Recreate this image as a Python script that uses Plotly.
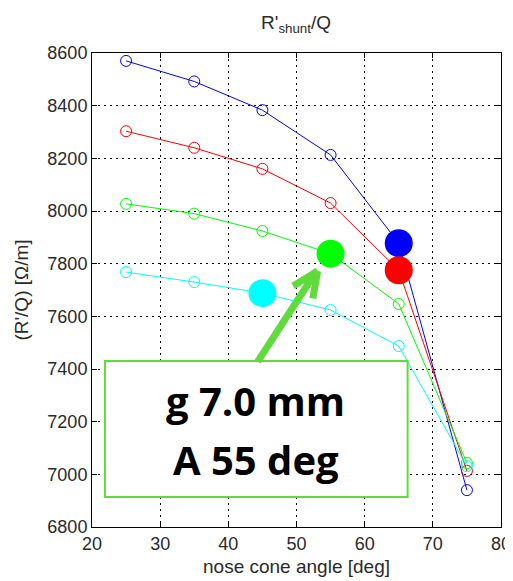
import plotly.graph_objects as go

angles = [25, 35, 45, 55, 65, 75]
blue_vals = [8570, 8492, 8383, 8213, 7878, 6940]
red_vals = [8303, 8240, 8160, 8030, 7775, 7013]
green_vals = [8027, 7990, 7924, 7838, 7647, 7043]
cyan_vals = [7768, 7730, 7688, 7624, 7487, 7031]
series = [("blue", "#0000ff", blue_vals, 4),
          ("red", "#ff0000", red_vals, 4),
          ("green", "#00ff00", green_vals, 3),
          ("cyan", "#00ffff", cyan_vals, 2)]

x_ticks = [20, 30, 40, 50, 60, 70, 80]
y_ticks = [6800, 7000, 7200, 7400, 7600, 7800, 8000, 8200, 8400, 8600]

box_lines = ["g 7.0 mm", "A 55 deg"]
hl = "#5fdc3c"

W, H = 505, 573  # page body has an 8px default margin

fig = go.Figure()
for name, col, vals, hi in series:
    fig.add_trace(go.Scatter(x=angles, y=vals, mode="lines+markers", name=name,
                             line=dict(color=col, width=1),
                             marker=dict(symbol="circle-open", size=11, color=col, line=dict(width=1, color=col))))
for name, col, vals, hi in series:
    fig.add_trace(go.Scatter(x=[angles[hi]], y=[vals[hi]], mode="markers",
                             marker=dict(size=28, color=col, line=dict(width=0))))

txt = "#2a2a2a"
axis_common = dict(showline=True, mirror="ticks", linecolor="black", linewidth=1,
                   ticks="inside", ticklen=5, tickcolor="black", automargin=False,
                   showgrid=True, gridcolor="black", gridwidth=1, griddash="2px,4px",
                   zeroline=False, tickfont=dict(family="Liberation Sans, Arial", size=18, color=txt))

fig.update_layout(
    width=W, height=H, showlegend=False,
    paper_bgcolor="white", plot_bgcolor="white",
    margin=dict(l=84, r=12, t=45, b=54),
    title=dict(text="R'<sub>shunt</sub>/Q", x=288/W, xanchor="center", y=1-14/H, yanchor="middle",
               font=dict(family="Liberation Sans, Arial", size=19, color=txt), automargin=False),
    xaxis=dict(range=[20, 80], tickvals=x_ticks, title=dict(text="nose cone angle [deg]", standoff=7,
               font=dict(family="Liberation Sans, Arial", size=19, color=txt)), **axis_common),
    yaxis=dict(range=[6800, 8600], tickvals=y_ticks, title=dict(text="(R'/Q) [Ω/m]", standoff=13,
               font=dict(family="Liberation Sans, Arial", size=19, color=txt)), **axis_common),
)

# annotation box
fig.add_shape(type="rect", xref="x", yref="y", x0=21.9, x1=66.3, y0=6914, y1=7430,
              line=dict(color=hl, width=2), fillcolor="white", layer="above")
fig.add_annotation(x=44.05, y=7282, xref="x", yref="y", text="<b>%s</b>" % box_lines[0], showarrow=False,
                   font=dict(family="Open Sans", size=40, color="black"), yanchor="middle")
fig.add_annotation(x=44.05, y=7058, xref="x", yref="y", text="<b>%s</b>" % box_lines[1], showarrow=False,
                   font=dict(family="Open Sans", size=40, color="black"), yanchor="middle")
# arrow shaft + chevron head
fig.add_shape(type="line", xref="x", yref="y", x0=44.3, y0=7428, x1=53.0, y1=7775,
              line=dict(color=hl, width=7), layer="above")
fig.add_shape(type="line", xref="x", yref="y", x0=49.5, y0=7715, x1=53.1, y1=7772,
              line=dict(color=hl, width=7), layer="above")
fig.add_shape(type="line", xref="x", yref="y", x0=52.4, y0=7668, x1=53.1, y1=7772,
              line=dict(color=hl, width=7), layer="above")

fig.write_html("out.html")
